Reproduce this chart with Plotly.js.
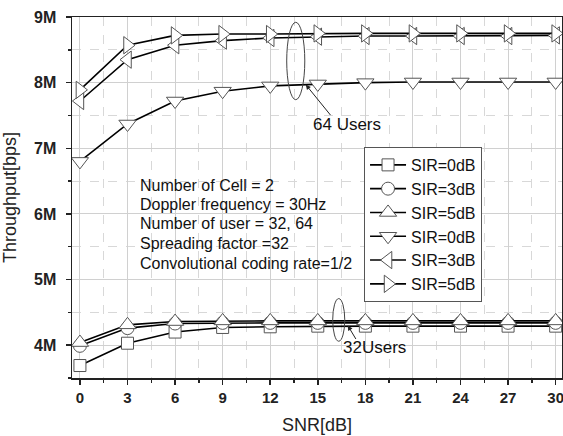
<!DOCTYPE html>
<html>
<head>
<meta charset="utf-8">
<script src="https://cdn.plot.ly/plotly-3.0.1.min.js"></script>
<style>
html,body{margin:0;padding:0;background:#fff;}
#chart{width:563px;height:436px;}
</style>
</head>
<body>
<div id="chart"></div>
<script>
// SNR values (dB)
const snr = [0, 3, 6, 9, 12, 15, 18, 21, 24, 27, 30];

// Throughput in Mbps (M) - 32 users
const u32_sir0 = [3.69, 4.03, 4.20, 4.27, 4.28, 4.29, 4.29, 4.29, 4.29, 4.29, 4.29];
const u32_sir3 = [3.99, 4.26, 4.33, 4.34, 4.34, 4.34, 4.34, 4.34, 4.34, 4.34, 4.34];
const u32_sir5 = [4.04, 4.31, 4.36, 4.37, 4.37, 4.37, 4.37, 4.37, 4.37, 4.37, 4.37];

// Throughput in Mbps (M) - 64 users
const u64_sir0 = [6.80, 7.37, 7.72, 7.87, 7.95, 7.98, 8.00, 8.01, 8.01, 8.01, 8.01];
const u64_sir3 = [7.72, 8.35, 8.57, 8.64, 8.68, 8.70, 8.71, 8.71, 8.71, 8.71, 8.72];
const u64_sir5 = [7.89, 8.57, 8.72, 8.74, 8.74, 8.75, 8.75, 8.75, 8.75, 8.75, 8.75];

const legendNames = ["SIR=0dB", "SIR=3dB", "SIR=5dB", "SIR=0dB", "SIR=3dB", "SIR=5dB"];
const symbols = ["square", "circle", "triangle-up", "triangle-down", "triangle-left", "triangle-right"];

const infoLines = [
  "Number of Cell = 2",
  "Doppler frequency = 30Hz",
  "Number of user = 32, 64",
  "Spreading factor =32",
  "Convolutional coding rate=1/2"
];

const series = [u32_sir0, u32_sir3, u32_sir5, u64_sir0, u64_sir3, u64_sir5];
const sizes = [12, 13, 15, 15, 15, 15];
const FONT = "Liberation Sans, Arial, sans-serif";

const traces = series.map((ys, i) => ({
  x: snr, y: ys, type: 'scatter', mode: 'lines+markers',
  name: legendNames[i],
  line: {color: '#000', width: 1.6},
  marker: {symbol: symbols[i], size: sizes[i], color: '#fff',
           line: {color: '#555', width: 1}}
}));

const infoY = [6.44, 6.14, 5.85, 5.55, 5.24];
const annotations = infoLines.map((t, i) => ({
  x: 3.65, y: infoY[i], xref: 'x', yref: 'y', text: t, showarrow: false,
  xanchor: 'left', yanchor: 'middle', font: {family: FONT, size: 16, color: '#111'}
}));
annotations.push(
  {x: 14.24, y: 7.97, xref: 'x', yref: 'y', ax: 26, ay: 32, text: '', showarrow: true,
   arrowhead: 2, arrowsize: 1, arrowwidth: 1, arrowcolor: '#222'},
  {x: 16.82, y: 7.36, xref: 'x', yref: 'y', text: '64 Users', showarrow: false,
   font: {family: FONT, size: 17, color: '#111'}},
  {x: 16.89, y: 4.30, xref: 'x', yref: 'y', ax: 9, ay: 15, text: '', showarrow: true,
   arrowhead: 2, arrowsize: 1, arrowwidth: 1, arrowcolor: '#222'},
  {x: 18.59, y: 3.97, xref: 'x', yref: 'y', text: '32Users', showarrow: false,
   font: {family: FONT, size: 17, color: '#111'}}
);

const shapes = [
  {type: 'circle', xref: 'x', yref: 'y', x0: 13.04, x1: 14.18, y0: 7.74, y1: 8.92,
   line: {color: '#444', width: 1}},
  {type: 'circle', xref: 'x', yref: 'y', x0: 15.94, x1: 16.70, y0: 4.06, y1: 4.71,
   line: {color: '#444', width: 1}}
];

const xr = [-0.5, 30.4], yr = [3.5, 9];
const layout = {
  width: 563, height: 436,
  margin: {l: 72, r: 1, t: 17, b: 58},
  paper_bgcolor: '#fff', plot_bgcolor: '#fff',
  font: {family: FONT, color: '#111'},
  showlegend: true,
  legend: {x: 0.596, y: 0.64, xanchor: 'left', yanchor: 'top',
           bgcolor: '#fff', bordercolor: '#555', borderwidth: 1,
           font: {family: FONT, size: 16, color: '#111'}, itemwidth: 36,
           tracegroupgap: 0},
  xaxis: {range: xr, tick0: 0, dtick: 3, showline: true, linecolor: '#222', linewidth: 1.5,
          mirror: true, ticks: 'outside', ticklen: 5, tickwidth: 1.5, tickcolor: '#222',
          ticklabeloverflow: 'allow',
          showgrid: true, gridcolor: '#d0d0d0', gridwidth: 1, zeroline: false,
          minor: {dtick: 1.5, tick0: 0, ticks: 'outside', ticklen: 3, tickcolor: '#222',
                  showgrid: true, gridcolor: '#d8d8d8', griddash: 'dash'},
          tickfont: {family: FONT, size: 15, weight: 'bold', color: '#222'},
          title: {text: 'SNR[dB]', font: {family: FONT, size: 18, color: '#222'}, standoff: 14}},
  yaxis: {range: yr, tick0: 4, dtick: 1, ticksuffix: 'M', showline: true, linecolor: '#222',
          linewidth: 1.5, mirror: true, ticks: 'outside', ticklen: 5, tickwidth: 1.5,
          tickcolor: '#222', ticklabelstandoff: 6,
          showgrid: true, gridcolor: '#d0d0d0', gridwidth: 1, zeroline: false,
          minor: {dtick: 0.5, tick0: 0, ticks: 'outside', ticklen: 3, tickcolor: '#222',
                  showgrid: true, gridcolor: '#d8d8d8', griddash: 'dash'},
          tickfont: {family: FONT, size: 16, weight: 'bold', color: '#222'},
          title: {text: 'Throughput[bps]', font: {family: FONT, size: 18, color: '#222'}, standoff: 14}},
  xaxis2: {range: xr, overlaying: 'x', side: 'top', tick0: 0, dtick: 3, ticks: 'inside',
           ticklen: 8, tickwidth: 1.5, tickcolor: '#222', showticklabels: false,
           showgrid: false, zeroline: false, showline: false,
           minor: {dtick: 1.5, tick0: 0, ticks: 'inside', ticklen: 4, tickcolor: '#222', showgrid: false}},
  yaxis2: {range: yr, overlaying: 'y', side: 'right', tick0: 4, dtick: 1, ticks: 'inside',
           ticklen: 8, tickwidth: 1.5, tickcolor: '#222', showticklabels: false,
           showgrid: false, zeroline: false, showline: false,
           minor: {dtick: 0.5, tick0: 0, ticks: 'inside', ticklen: 4, tickcolor: '#222', showgrid: false}},
  annotations: annotations,
  shapes: shapes
};

Plotly.newPlot('chart', traces, layout, {displayModeBar: false, staticPlot: true});
</script>
</body>
</html>
